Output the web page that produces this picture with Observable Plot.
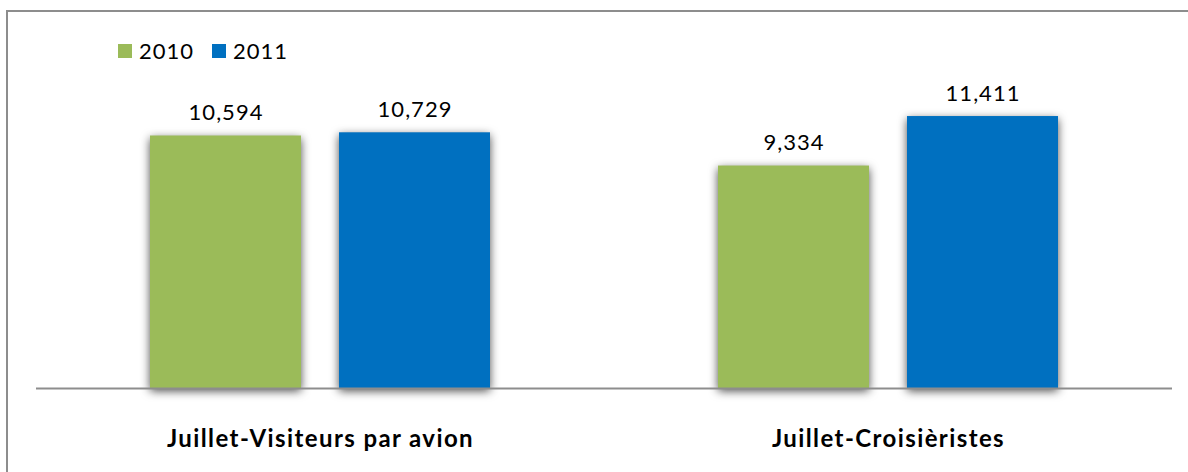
<!DOCTYPE html>
<html>
<head>
<meta charset="utf-8">
<script src="https://cdn.jsdelivr.net/npm/d3@7"></script>
<script src="https://cdn.jsdelivr.net/npm/@observablehq/plot@0.6"></script>
<style>
  html, body { margin: 0; padding: 0; background: #fff; }
  body { position: relative; width: 1188px; height: 472px; overflow: hidden; font-family: Lato, "Open Sans", sans-serif; }
  #frame { position: absolute; left: 6px; top: 10px; width: 1300px; height: 600px;
           border-left: 2px solid #8d8d8d; border-top: 2px solid #8d8d8d; z-index: 3; pointer-events: none; }
  #chart { position: absolute; left: 0; top: 0; }
  #legend { position: absolute; left: 118px; top: 34px; z-index: 2; }
  #legend .lg-swatch { margin-right: 18px !important; }
  #legend .lg-swatch svg { margin-right: 7px !important; }
  g[aria-label="bar"] rect { filter: drop-shadow(0px 3px 5px rgba(0,0,0,0.7)); }
</style>
</head>
<body>
<div id="frame"></div>
<div id="chart"></div>
<div id="legend"></div>
<script>
const categories = ["Juillet-Visiteurs par avion", "Juillet-Croisièristes"];
const years = ["2010", "2011"];
const values2010 = [10594, 9334];
const values2011 = [10729, 11411];
const colors = ["#9BBB59", "#0070C0"];

const data = [];
categories.forEach((c, i) => {
  data.push({category: c, year: years[0], value: values2010[i]});
  data.push({category: c, year: years[1], value: values2011[i]});
});

const fmt = d3.format(",");

const chart = Plot.plot({
  width: 1188,
  height: 472,
  marginLeft: 36,
  marginRight: 16,
  marginTop: 102,
  marginBottom: 84,
  style: {background: "transparent", fontFamily: "Lato, 'Open Sans', sans-serif", color: "#000"},
  fx: {domain: categories, paddingInner: 0, paddingOuter: 0, label: null},
  x: {domain: years, paddingInner: 0.2, paddingOuter: 0.6, axis: null},
  y: {domain: [0, 12000], axis: null},
  color: {domain: years, range: colors},
  marks: [
    Plot.axisFx({anchor: "bottom", tickSize: 0, tickPadding: 41, fontSize: 24, fontWeight: "bold", label: null}),
    Plot.barY(data, {fx: "category", x: "year", y: "value", fill: "year"}),
    Plot.ruleY([0], {stroke: "#8d8d8d", strokeWidth: 2}),
    Plot.text(data, {fx: "category", x: "year", y: "value", text: d => fmt(d.value), dy: -23, fontSize: 22, fill: "#000"})
  ]
});
chart.querySelectorAll('g[aria-label="text"] text').forEach(t => t.style.letterSpacing = "1px");
chart.querySelectorAll('g[aria-label="fx-axis tick label"] text').forEach(t => {
  t.style.fontSize = "24px"; t.style.fontWeight = "bold"; t.style.letterSpacing = "1.4px";
});
document.getElementById("chart").appendChild(chart);

const legend = Plot.legend({
  color: {domain: years, range: colors},
  legend: "swatches",
  swatchSize: 14,
  className: "lg",
  style: {fontFamily: "Lato, 'Open Sans', sans-serif", fontSize: "22px", color: "#000", letterSpacing: "1px", background: "transparent"}
});
document.getElementById("legend").appendChild(legend);
</script>
</body>
</html>
